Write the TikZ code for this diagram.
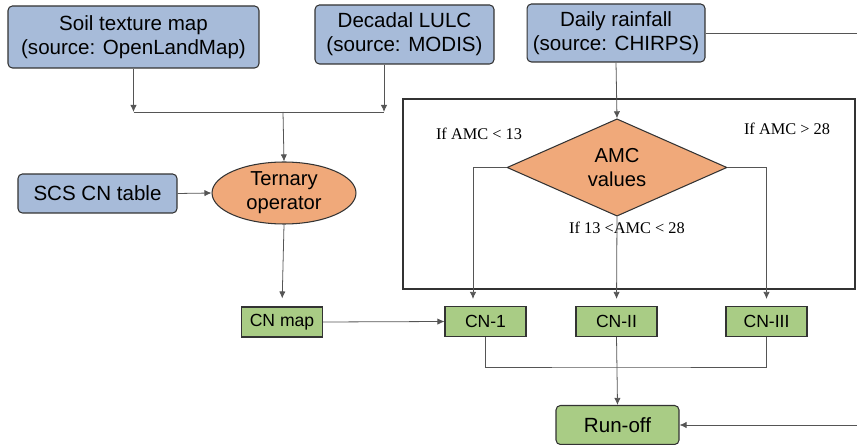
\documentclass[tikz,border=0pt]{standalone}
\usepackage{fontspec}
\setmainfont{Liberation Sans}
\newfontfamily\condfont{Liberation Serif}
\usepackage{tikz}
\usetikzlibrary{shapes.geometric, arrows.meta, calc}
\definecolor{inputblue}{RGB}{167, 187, 217}
\definecolor{oporange}{RGB}{240, 169, 122}
\definecolor{cngreen}{RGB}{169, 204, 133}
\definecolor{linegray}{RGB}{85, 85, 85}

\begin{document}
\begin{tikzpicture}[x=0.02cm, y=-0.02cm,
  inbox/.style={draw=black!80, line width=0.6pt, fill=inputblue, rounded corners=2.5pt, align=center, inner sep=0pt, font=\fontsize{11.7}{13.5}\selectfont},
  cnbox/.style={draw=black!80, line width=0.6pt, fill=cngreen, inner sep=0pt, minimum width=1.62cm, minimum height=0.6cm, font=\fontsize{10}{12}\selectfont},
  opnode/.style={draw=black!80, line width=0.6pt, fill=oporange, align=center, inner sep=0pt, font=\fontsize{11.5}{13.5}\selectfont},
  cond/.style={font=\condfont\fontsize{9.3}{11}\selectfont},
  arr/.style={draw=linegray, line width=0.45pt, -{Latex[length=4pt, width=3.6pt]}},
  ln/.style={draw=linegray, line width=0.45pt}]
\useasboundingbox (0,0) rectangle (857,445);
\draw[black!80, line width=0.65pt] (403,99) rectangle (855,289);
\node[inbox, minimum width=5.02cm, minimum height=1.24cm] (soil) at (133.5,37) {Soil texture map\\(source: OpenLandMap)};
\node[inbox, minimum width=3.58cm, minimum height=1.18cm] (lulc) at (404.5,34.5) {Decadal LULC\\(source: MODIS)};
\node[inbox, minimum width=3.56cm, minimum height=1.16cm] (rain) at (616,33) {Daily rainfall\\(source: CHIRPS)};
\node[inbox, minimum width=3.18cm, minimum height=0.78cm] (scs) at (97.5,193.5) {SCS CN table};
\node[opnode, ellipse, minimum width=2.88cm, minimum height=1.24cm] (tern) at (284,193) {Ternary\\operator};
\node[opnode, diamond, minimum width=4.4cm, minimum height=1.94cm, font=\fontsize{11.5}{14}\selectfont] (amc) at (617,167.5) {AMC\\values};
\node[cnbox] (cnmap) at (282,322) {CN map};
\node[cnbox] (cn1) at (485.5,321.5) {CN-1};
\node[cnbox] (cn2) at (616.5,321.5) {CN-II};
\node[cnbox] (cn3) at (766.5,321.5) {CN-III};
\node[inbox, fill=cngreen, minimum width=2.46cm, minimum height=0.78cm] (runoff) at (617.5,425) {Run-off};
\node[cond] (lowlab) at (479,134) {If AMC < 13};
\node[cond] (highlab) at (787,129) {If AMC > 28};
\node[cond] (midlab) at (627,228) {If 13 <AMC < 28};
\coordinate (merge) at (283,112);
\coordinate (lulcout) at ($(lulc.south)+(-20.5,0)$);
\draw[arr] (soil.south) -- (soil.south |- merge);
\draw[arr] (lulcout) -- (lulcout |- merge);
\draw[ln] (soil.south |- merge) -- (lulcout |- merge);
\draw[arr] (merge) -- (tern.north);
\draw[arr] (scs.east) -- (tern.west);
\draw[arr, shorten >=0.16cm] (tern.south) -- (cnmap.north);
\draw[arr] (cnmap.east) -- (cn1.west);
\draw[arr] (rain.south) -- (amc.north);
\coordinate (cn1in) at ($(cn1.north)+(-12.5,0)$);
\draw[arr, shorten >=0.14cm] (amc.west) -| (cn1in);
\draw[arr, shorten >=0.14cm] (amc.south) -- (cn2.north);
\draw[arr, shorten >=0.14cm] (amc.east) -| (cn3.north);
\coordinate (join) at (617,367);
\draw[ln] (cn1.south) |- (join) -| (cn3.south);
\draw[arr] (cn2.south) -- (runoff.north);
\coordinate (rainturn) at (880,33);
\draw[arr] (rain.east) -- (rainturn) |- (runoff.east);
\end{tikzpicture}
\end{document}
